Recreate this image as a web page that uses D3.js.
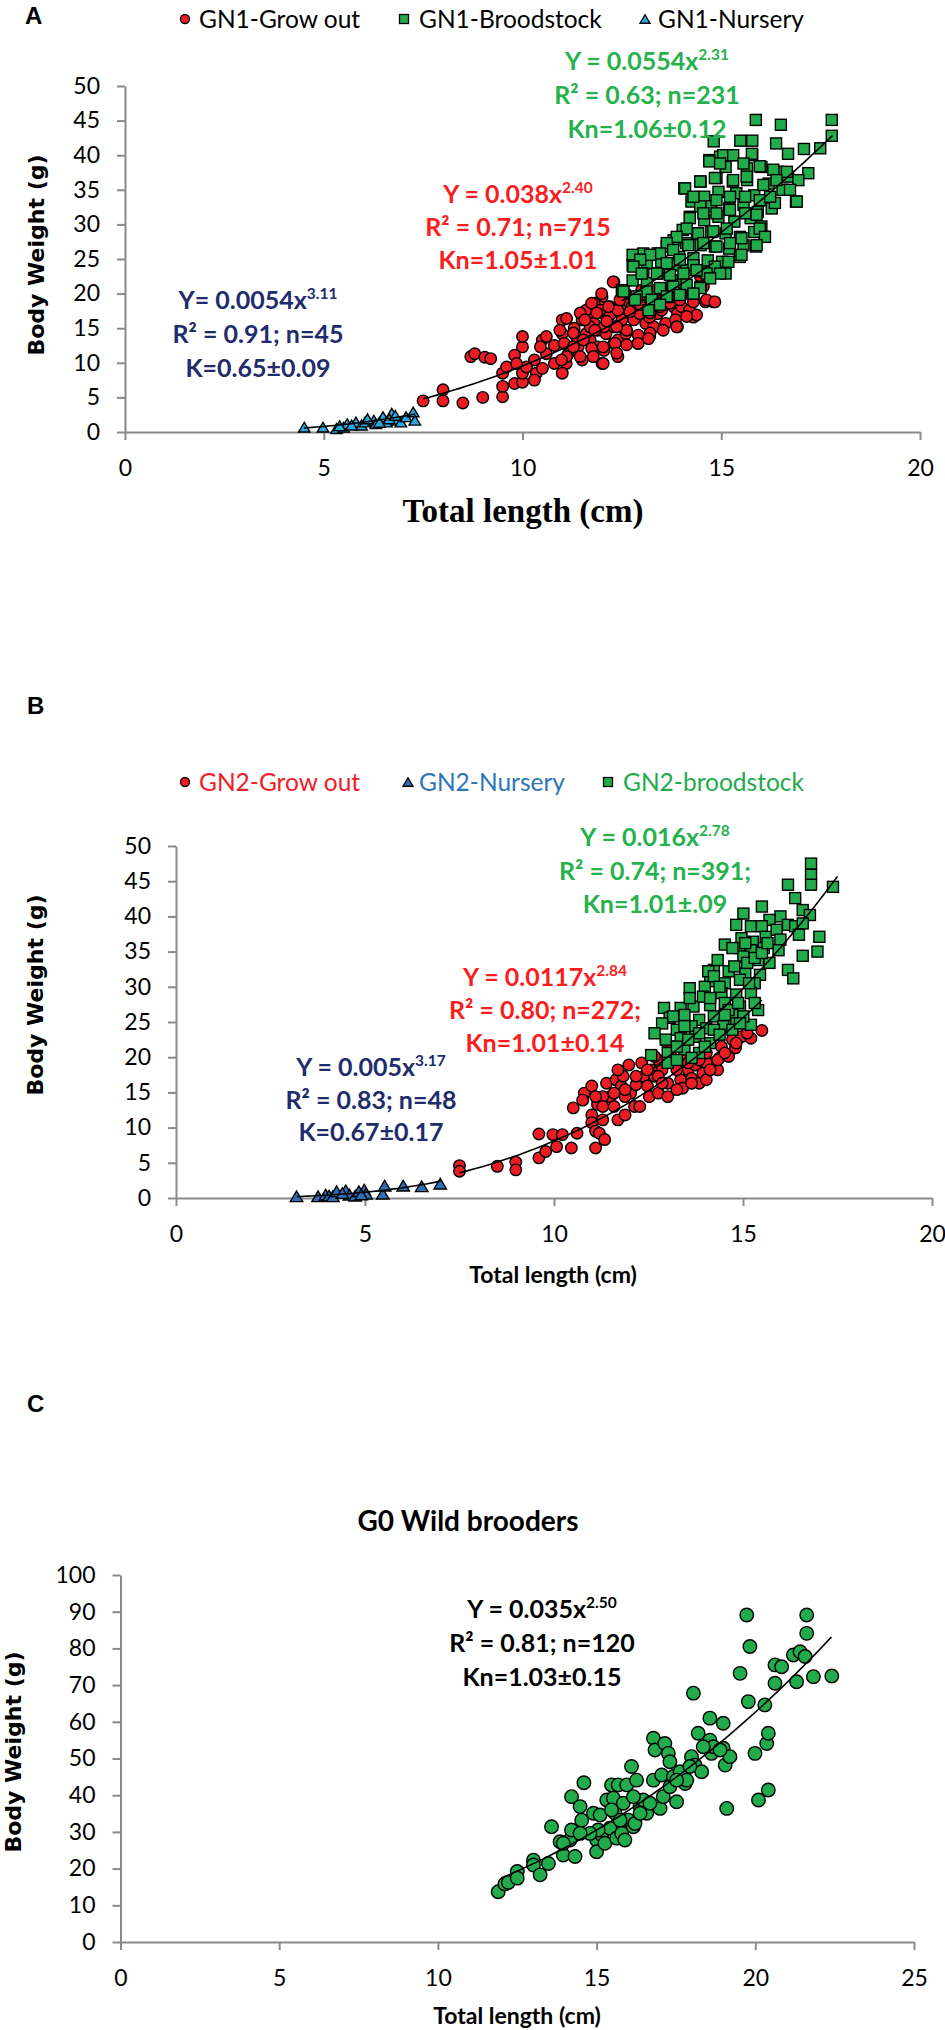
<!DOCTYPE html>
<html>
<head>
<meta charset="utf-8">
<script src="https://cdn.jsdelivr.net/npm/d3@7"></script>
<style>
  body { margin: 0; background: #fff; }
  svg { display: block; }
</style>
</head>
<body>
<script>
// values: [total length (cm), body weight (g)]

// panel A
let gn1GrowOut = [
  [7.5,4.5],[8.0,6.1],[8.0,4.5],[8.5,4.2],[9.0,5.0],[9.5,5.1],[9.5,6.6],[8.7,10.9],[8.8,11.3],[9.05,10.8],
  [9.2,10.6],[9.5,8.5],[9.8,7.0],[10.0,7.2],[10.0,8.5],[9.8,11.1],[10.0,12.3],[10.0,13.8],[10.3,10.4],[10.35,8.5],
  [10.5,9.2],[10.5,13.3],[10.6,11.3],[10.8,12.5],[11.0,14.2],[11.0,16.2],[11.1,9.9],[11.25,12.3],[11.3,15.0],[11.5,16.2],
  [11.5,10.4],[11.7,13.3],[11.9,12.3],[12.0,9.9],[12.0,19.5],[11.8,17.1],[11.9,14.7],[12.05,17.1],[12.1,14.2],[12.3,21.7],
  [12.2,18.1],[12.3,15.2],[12.4,13.3],[12.4,10.9],[12.6,17.1],[12.6,14.2],[12.8,16.2],[12.9,12.8],[13.0,18.1],[13.1,15.7],
  [13.2,13.8],[13.3,15.2],[13.4,17.1],[13.5,17.6],[13.6,15.7],[13.8,18.1],[13.85,19.5],[13.9,17.1],[14.0,18.1],[13.9,15.2],
  [14.3,16.6],[14.6,18.8],[14.8,18.8],[14.6,22.2],[11.95,18.1],[11.6,17.6],[11.8,18.6],[12.5,19.0],[12.8,19.5],[13.0,20.5],
  [12.7,18.6],[11.35,13.8],[11.15,11.3],[10.45,12.3],[10.6,13.8],[10.8,9.9],[11.0,8.5],[10.3,7.5],[10.1,9.4],[9.6,9.4],
  [9.85,9.9],[11.05,12.8],[11.4,12.3],[12.05,11.8],[12.3,12.8],[11.6,14.2],[11.8,15.7],[12.05,15.2],[12.2,16.9],[12.5,16.2],
  [12.75,18.1],[12.95,17.1],[13.2,16.6],[13.5,19.0],[13.65,19.5],[14.2,17.6],[14.0,20.0],[13.85,16.2],[13.1,19.5],[13.3,20.5],
  [12.6,20.0],[11.95,17.6],[12.4,17.6],[11.7,15.2],
  [12.28,21.7],[11.99,20.0],[11.74,18.6],[11.45,17.2],[11.11,16.4],[10.94,14.7],[11.28,14.3],[11.57,16.2],[11.87,17.2],[12.16,18.1],
  [12.45,19.1],[12.7,17.4],[12.96,18.4],[13.21,17.2],[13.46,18.1],[13.71,18.6],[13.96,19.1],[14.3,18.8],[14.63,19.1],[14.84,18.8],
  [14.38,16.9],[14.13,16.7],[13.88,15.2],[13.54,14.7],[13.21,14.3],[12.91,14.0],[12.62,14.7],[12.37,15.2],[12.12,16.0],[11.82,14.7],
  [11.53,13.3],[11.28,12.3],[11.11,10.9],[11.45,10.9],[11.74,12.1],[12.03,12.3],[12.33,12.8],[12.62,12.6],[12.91,12.8],[13.17,13.5],
  [12.03,9.9],[12.37,11.4],[11.78,10.9],[10.98,10.4],[14.47,22.5],[14.55,21.0],[14.17,20.3]
];
let gn1Broodstock = [
  [15.87,45.1],[16.5,44.4],[17.78,45.1],[17.78,42.8],[14.81,42.0],[15.48,42.1],[15.78,42.1],[16.38,41.7],[16.68,40.2],[17.08,40.9],
  [17.49,41.0],[17.19,37.4],[14.7,39.3],[14.97,39.8],[15.29,40.0],[15.78,40.0],[15.11,38.3],[15.65,38.1],[16.01,38.3],[16.41,37.6],
  [16.68,36.9],[14.07,35.2],[14.48,36.2],[14.88,36.7],[15.29,36.2],[15.65,36.4],[16.19,35.9],[16.54,35.0],[16.88,33.3],[16.14,33.5],
  [15.83,34.2],[15.38,34.5],[14.93,34.7],[14.57,34.0],[14.25,33.3],[14.75,32.6],[15.2,32.3],[15.56,32.8],[15.92,31.8],[16.27,32.3],
  [14.21,31.1],[14.57,30.6],[14.93,31.1],[15.33,30.4],[15.74,30.9],[16.01,29.7],[15.87,26.8],[16.09,28.2],[14.03,29.2],[14.39,28.7],
  [14.75,28.9],[15.11,28.7],[15.47,28.2],[15.83,28.9],[13.8,27.7],[14.12,27.3],[14.48,27.0],[14.84,26.8],[15.2,26.5],[15.56,27.0],
  [15.47,25.3],[15.11,22.9],[15.02,24.6],[14.66,24.8],[14.3,25.1],[13.94,25.3],[13.63,26.8],[13.4,25.8],[13.04,25.8],[12.77,25.6],
  [13.13,24.4],[13.49,24.6],[13.8,24.1],[14.12,23.4],[14.48,23.2],[14.84,23.9],[12.77,24.1],[13.04,22.9],[13.4,22.9],[13.76,21.9],
  [14.03,21.5],[14.48,21.0],[12.77,21.9],[13.13,21.5],[13.49,20.7],[12.5,20.5],[12.82,19.3],[13.22,19.5],[13.67,19.5],[13.98,20.0],
  [14.3,20.0],
  [15.05,40.0],[15.3,40.0],[15.77,40.2],[14.7,39.1],[14.97,38.8],[15.56,38.8],[15.97,38.4],[16.31,37.9],[16.65,37.6],[16.94,36.4],
  [14.09,35.2],[14.47,36.2],[14.84,36.7],[15.3,36.4],[15.64,36.9],[16.06,35.7],[16.39,36.4],[16.73,35.0],[16.9,33.3],[16.35,33.1],
  [15.97,33.5],[15.6,34.0],[15.22,34.0],[14.88,33.5],[14.47,32.6],[14.3,34.0],[14.21,30.9],[14.55,31.6],[14.88,31.6],[15.22,32.1],
  [15.6,31.6],[15.89,31.4],[16.23,34.0],[15.97,29.4],[16.1,28.2],[15.89,27.0],[15.51,28.0],[15.14,29.4],[14.8,29.0],[14.42,28.7],
  [14.13,29.4],[13.88,28.2],[13.63,27.3],[13.46,25.8],[13.79,26.3],[14.17,27.0],[14.55,27.3],[14.88,26.8],[15.22,27.3],[15.51,25.6],
  [15.18,24.6],[14.97,22.9],[14.63,22.9],[14.3,24.1],[13.96,24.9],[13.63,24.4],[13.21,25.6],[12.96,24.9],[12.79,23.9],[13.0,22.9],
  [13.38,22.9],[13.71,22.7],[14.05,22.9],[14.38,23.4],[14.72,22.2],[14.47,20.8],[14.13,21.3],[13.79,21.0],[13.46,20.8],[13.12,20.3],
  [12.87,19.6],[12.54,20.3],[12.83,19.1],[13.25,19.1],[13.63,19.6],[13.96,19.8],[14.3,20.0],[13.17,17.6],[13.46,18.4]
];
let gn1Nursery = [
  [4.51,0.7],[4.98,0.7],[5.32,0.5],[5.5,0.7],[5.59,1.2],[5.81,1.45],[5.95,1.0],[6.04,1.45],[6.26,1.7],[6.31,1.2],
  [6.49,2.2],[6.58,1.45],[6.71,2.7],[6.85,1.7],[6.94,1.45],[7.07,2.2],[7.25,2.9],[7.29,1.7],[5.7,1.0],[6.1,1.9],
  [6.4,1.4],[5.4,0.9],[6.65,1.9],[6.8,2.4]
];

// panel B
let gn2GrowOut = [
  [7.5,4.6],[7.5,3.8],[8.5,4.5],[8.99,5.1],[8.99,4.0],[9.6,9.1],[9.6,5.7],[9.78,6.6],[9.97,9.0],[10.07,7.3],
  [10.22,9.0],[10.46,7.1],[10.61,9.2],[10.51,12.8],[10.8,14.9],[10.76,13.9],[11.0,11.8],[11.0,10.7],[11.1,9.5],[11.2,9.2],
  [11.34,8.3],[11.15,13.3],[11.39,16.3],[11.49,14.4],[11.64,16.8],[11.69,11.1],[11.59,13.0],[11.78,15.9],[11.88,11.8],[11.98,18.9],
  [12.03,14.9],[12.13,13.0],[12.17,16.1],[12.27,13.0],[12.37,17.3],[12.47,15.9],[12.52,14.4],[12.57,18.2],[12.66,17.3],[12.76,14.9],
  [12.86,18.2],[13.01,16.3],[13.01,14.4],[12.96,22.2],[13.1,20.1],[13.25,19.2],[13.35,16.8],[13.4,15.6],[13.55,18.2],[13.64,17.0],
  [13.74,18.9],[13.84,16.3],[13.94,17.7],[14.03,16.8],[14.18,19.2],[14.33,18.2],[14.38,19.9],[14.43,21.5],[14.72,22.5],[14.8,21.3],
  [14.96,22.9],[15.21,22.7],[15.5,23.8],[14.62,20.1],[13.45,19.6],[12.76,19.6],[12.32,19.2],[11.83,17.3],[11.29,14.4],[11.0,15.9],
  [11.69,18.2],[12.66,20.1],[13.15,21.5],[14.03,19.2],[13.25,15.4],[11.1,7.1],[11.29,11.1],[11.88,14.4],
  [13.25,18.2],[13.55,19.2],[13.84,19.6],[14.13,18.2],[14.33,19.6],[14.52,20.6],[12.76,17.3],[12.47,18.2],[12.17,17.3],[11.88,15.4],
  [11.59,14.9],[11.29,13.0],[11.1,14.4],[12.86,16.3],[13.64,16.3],[14.03,20.6],[14.82,22.0],[15.11,23.4]
];
let gn2Nursery = [
  [3.19,0.24],[3.76,0.24],[3.96,0.48],[4.05,0.33],[4.15,0.24],[4.25,0.95],[4.49,1.09],[4.59,0.48],[4.74,0.33],[4.84,0.95],
  [4.98,1.19],[5.03,0.62],[5.47,0.62],[5.52,1.75],[6.01,1.75],[6.5,1.66],[6.99,2.04],[4.4,0.7],[4.9,0.5]
];
let gn2Broodstock = [
  [16.8,47.5],[16.8,45.9],[16.8,44.5],[17.38,44.2],[16.19,44.5],[16.38,42.6],[15.5,41.4],[15.01,40.4],[16.58,40.9],[16.77,40.2],
  [15.99,40.0],[15.7,39.5],[14.82,38.8],[15.21,38.6],[15.5,38.6],[16.19,38.8],[16.38,38.6],[16.58,39.0],[15.89,38.1],[17.02,37.1],
  [16.97,35.0],[16.58,34.4],[16.48,37.4],[14.96,36.9],[15.26,36.4],[15.6,37.1],[15.99,36.7],[14.52,36.0],[14.92,35.5],[15.21,35.2],
  [15.55,35.5],[15.94,35.2],[16.19,32.4],[16.33,31.2],[15.7,33.4],[15.4,33.8],[15.01,34.3],[14.23,32.4],[14.62,32.2],[15.06,31.9],
  [15.45,31.7],[14.13,30.8],[14.52,30.5],[14.92,31.0],[15.31,30.5],[13.59,29.8],[13.99,30.0],[14.43,29.1],[14.82,28.9],[15.21,29.1],
  [12.91,27.0],[13.35,27.0],[13.69,27.2],[14.13,27.4],[14.52,27.7],[14.92,27.2],[15.4,26.7],[13.06,25.6],[13.45,26.0],[13.84,25.3],
  [14.23,25.8],[14.72,26.0],[13.25,23.9],[13.64,24.4],[14.03,24.1],[14.48,24.4],[14.82,24.8],[15.21,24.6],[12.96,22.5],[13.35,22.7],
  [13.74,22.9],[14.13,22.0],[12.57,20.3],[13.01,20.6],[13.45,21.1],[13.84,20.6],[13.01,19.2],[13.25,19.6],[13.64,19.9],
  [14.08,32.2],[14.23,31.5],[14.38,30.0],[14.77,32.9],[15.11,33.4],[15.31,34.1],[15.5,34.8],[15.65,36.2],[14.72,35.5],[15.06,36.2],
  [14.33,33.8],[13.94,28.6],[13.59,28.4],[14.13,28.4],[14.62,26.7],[15.01,25.8],[15.31,27.7],[15.16,30.5],[14.87,27.7],[14.52,26.0],
  [14.23,23.9],[13.84,23.4],[13.45,24.4],[13.15,25.8],[12.86,24.8],[12.66,23.4],[13.25,21.5],[13.55,22.5],[13.99,21.5],[14.38,23.2],
  [14.72,23.9],[14.92,24.8]
];

// panel C
let g0Wild = [
  [11.9,13.7],[12.11,15.8],[12.22,16.2],[12.5,19.2],[12.5,17.4],[13.01,22.3],[13.01,21.0],[13.22,18.3],[13.48,21.4],[13.58,31.4],
  [13.85,27.3],[13.95,23.7],[14.16,27.8],[14.21,30.5],[14.21,39.6],[14.32,23.3],[14.48,36.9],[14.53,33.2],[14.6,43.4],[14.9,35.1],
  [15.0,27.8],[15.0,24.6],[15.11,34.6],[15.16,29.2],[15.26,26.9],[15.32,38.7],[15.42,31.0],[15.47,42.8],[15.53,39.2],[15.58,35.1],
  [15.63,28.3],[15.68,42.8],[15.79,29.6],[15.84,37.8],[15.95,42.8],[16.0,33.2],[16.1,47.8],[16.16,31.4],[16.21,32.3],[16.26,44.1],
  [16.37,36.9],[16.47,38.7],[16.58,35.1],[16.79,44.1],[16.79,55.5],[16.84,52.3],[17.0,36.4],[17.05,45.5],[17.1,39.6],[17.15,54.1],
  [17.26,51.4],[17.31,49.1],[17.31,42.3],[17.42,45.1],[17.52,38.2],[17.63,46.4],[17.79,43.2],[17.84,44.1],[17.99,50.5],[18.05,67.8],
  [18.1,48.2],[18.2,56.9],[18.31,46.4],[18.57,61.0],[18.57,55.0],[18.62,51.4],[18.68,53.2],[18.99,59.6],[18.99,52.8],[19.05,48.2],
  [19.1,36.4],[19.2,50.5],[19.52,73.2],[19.73,89.1],[19.78,65.5],[19.83,80.5],[19.99,51.4],[20.1,38.7],[20.3,64.6],[20.36,54.1],
  [20.41,56.9],[20.41,41.4],[20.62,75.5],[20.62,70.5],[20.83,75.0],[21.2,78.2],[21.3,70.9],[21.41,79.1],[21.57,77.8],[21.62,89.1],
  [21.62,84.1],[21.83,72.3],[22.41,72.5],[15.05,30.5],[14.79,29.6],[15.74,33.2],[15.89,27.8],[14.48,29.6],[16.37,35.1],[16.68,37.8],
  [17.52,44.1],[17.94,47.8],[18.36,53.2],[18.89,52.3],[15.47,36.0],[16.16,39.6],[13.95,26.9]
];

// power-curve trendlines as printed on the chart: [a, b, from, to]
let fitsA = [[0.0054, 3.11, 4.5, 7.3], [0.038, 2.40, 7.5, 14.8], [0.0554, 2.31, 12.5, 17.8]];
let fitsB = [[0.005, 3.17, 3.2, 7.0], [0.0117, 2.84, 7.5, 15.5], [0.016, 2.78, 12.6, 17.5]];
let fitsC = [[0.035, 2.50, 12.0, 22.4]];

let xTicksAB = [0, 5, 10, 15, 20];
let yTicksAB = [0, 5, 10, 15, 20, 25, 30, 35, 40, 45, 50];
let xTicksC = [0, 5, 10, 15, 20, 25];
let yTicksC = [0, 10, 20, 30, 40, 50, 60, 70, 80, 90, 100];

let legendA = ["GN1-Grow out", "GN1-Broodstock", "GN1-Nursery"];
let legendB = ["GN2-Grow out", "GN2-Nursery", "GN2-broodstock"];

let eqA = [
  [["Y = 0.0554x", "2.31"], ["R² = 0.63; n=231"], ["Kn=1.06±0.12"]],
  [["Y = 0.038x", "2.40"], ["R² = 0.71; n=715"], ["Kn=1.05±1.01"]],
  [["Y= 0.0054x", "3.11"], ["R² = 0.91; n=45"], ["K=0.65±0.09"]]
];
let eqB = [
  [["Y = 0.016x", "2.78"], ["R² = 0.74; n=391;"], ["Kn=1.01±.09"]],
  [["Y = 0.0117x", "2.84"], ["R² = 0.80; n=272;"], ["Kn=1.01±0.14"]],
  [["Y = 0.005x", "3.17"], ["R² = 0.83; n=48"], ["K=0.67±0.17"]]
];
let eqC = [
  [["Y = 0.035x", "2.50"], ["R² = 0.81; n=120"], ["Kn=1.03±0.15"]]
];

const RED = "#ec1c24", GREEN = "#22ab4a", LBLUE = "#2aa9e0", BLUE = "#2e6fb5", NAVY = "#202c6b";
const GRAY = "#8a8a8a";

let svg = d3.select("body").append("svg")
  .attr("width", 945).attr("height", 2030)
  .style("font-family", "Lato, sans-serif");

function marker(g, shape, fill, size) {
  if (shape === "circle") {
    return g.append("circle").attr("r", size / 2).attr("fill", fill);
  } else if (shape === "square") {
    return g.append("rect").attr("x", -size / 2).attr("y", -size / 2)
      .attr("width", size).attr("height", size).attr("fill", fill);
  } else {
    let h = size * 0.85;
    return g.append("path").attr("d", `M0,${-h / 2}L${size / 2},${h / 2}L${-size / 2},${h / 2}Z`).attr("fill", fill);
  }
}

function drawPanel(p) {
  let g = svg.append("g");
  let x = d3.scaleLinear().domain(p.xDomain).range(p.xRange);
  let y = d3.scaleLinear().domain(p.yDomain).range(p.yRange);

  // axes
  let xa = g.append("g").attr("transform", `translate(0,${y(0)})`)
    .call(d3.axisBottom(x).tickValues(p.xTicks).tickSize(8).tickSizeOuter(0).tickPadding(20));
  let ya = g.append("g").attr("transform", `translate(${x(0)},0)`)
    .call(d3.axisLeft(y).tickValues(p.yTicks).tickSize(8).tickSizeOuter(0).tickPadding(17));
  [xa, ya].forEach(a => {
    a.select(".domain").attr("stroke", GRAY).attr("stroke-width", 2);
    a.selectAll(".tick line").attr("stroke", GRAY).attr("stroke-width", 2);
    a.selectAll(".tick text").attr("font-family", "Lato, sans-serif").attr("font-size", 23).attr("fill", "#000");
  });

  // series
  p.series.forEach(s => {
    g.append("g").selectAll("g").data(s.data).join("g")
      .attr("transform", d => `translate(${x(d[0])},${y(d[1])})`)
      .each(function () {
        marker(d3.select(this), s.shape, s.fill, s.size)
          .attr("stroke", "#000").attr("stroke-width", 1.4);
      });
  });

  // trendlines
  let line = d3.line().x(d => x(d[0])).y(d => y(d[1])).curve(d3.curveBasis);
  p.fits.forEach(f => {
    let pts = d3.range(f[2], f[3] + 1e-9, (f[3] - f[2]) / 40).map(v => [v, f[0] * Math.pow(v, f[1])]);
    g.append("path").attr("d", line(pts)).attr("fill", "none").attr("stroke", "#000").attr("stroke-width", 1.6);
  });

  // equations
  p.eqs.forEach((eq, i) => {
    let pos = p.eqPos[i];
    eq.forEach((ln, j) => {
      let t = g.append("text").attr("x", pos.cx).attr("y", pos.y0 + j * pos.dy)
        .attr("text-anchor", "middle").attr("font-weight", 700).attr("font-size", 25)
        .attr("fill", pos.color);
      t.append("tspan").text(ln[0]);
      if (ln[1]) t.append("tspan").attr("dy", -10).attr("font-size", 15.5).text(ln[1]);
    });
  });

  // axis titles
  g.append("text")
    .attr("transform", `translate(${p.yTitle[0]},${p.yTitle[1]}) rotate(-90)`)
    .attr("text-anchor", "middle").attr("dy", "0.35em")
    .attr("font-family", "DejaVu Sans, Verdana, sans-serif").attr("font-weight", 700).attr("font-size", 22)
    .text("Body Weight (g)");
  g.append("text").attr("x", p.xTitle[0]).attr("y", p.xTitle[1]).attr("text-anchor", "middle")
    .attr("font-family", p.xTitleFont).attr("font-weight", 700).attr("font-size", p.xTitleSize)
    .text("Total length (cm)");

  // panel letter
  g.append("text").attr("x", p.letter[1]).attr("y", p.letter[2])
    .attr("font-family", "Liberation Sans, Arial, sans-serif").attr("font-weight", 700).attr("font-size", 24)
    .text(p.letter[0]);

  // legend
  if (p.legend) {
    p.legend.forEach(it => {
      let lg = g.append("g").attr("transform", `translate(${it.mx},${p.legendY})`);
      marker(lg, p.series[it.s].shape, p.series[it.s].fill, it.ms).attr("stroke", "#000").attr("stroke-width", 1.3);
      g.append("text").attr("x", it.tx).attr("y", p.legendY + 9).attr("font-size", 24.5)
        .attr("fill", it.color).text(it.label);
    });
  }
  if (p.title) {
    g.append("text").attr("x", p.title[1]).attr("y", p.title[2]).attr("text-anchor", "middle")
      .attr("font-weight", 700).attr("font-size", 28).text(p.title[0]);
  }
}

drawPanel({
  xDomain: [0, 20], xRange: [125, 920], yDomain: [0, 50], yRange: [432, 86],
  xTicks: xTicksAB, yTicks: yTicksAB,
  series: [
    { data: gn1GrowOut, shape: "circle", fill: RED, size: 11.5 },
    { data: gn1Broodstock, shape: "square", fill: GREEN, size: 11 },
    { data: gn1Nursery, shape: "triangle", fill: LBLUE, size: 11.5 }
  ],
  fits: fitsA,
  eqs: eqA,
  eqPos: [
    { cx: 647, y0: 70, dy: 34, color: "#25b24c" },
    { cx: 518, y0: 203, dy: 33, color: "#fb1d1d" },
    { cx: 258, y0: 309, dy: 34, color: NAVY }
  ],
  yTitle: [36, 255], xTitle: [523, 522], xTitleFont: "Liberation Serif, Times New Roman, serif", xTitleSize: 33,
  letter: ["A", 25, 24],
  legendY: 19,
  legend: [
    { s: 0, mx: 185, tx: 199, ms: 9, label: legendA[0], color: "#000" },
    { s: 1, mx: 404, tx: 419, ms: 9, label: legendA[1], color: "#000" },
    { s: 2, mx: 645, tx: 658, ms: 10, label: legendA[2], color: "#000" }
  ]
});

drawPanel({
  xDomain: [0, 20], xRange: [176, 932], yDomain: [0, 50], yRange: [1198, 846],
  xTicks: xTicksAB, yTicks: yTicksAB,
  series: [
    { data: gn2GrowOut, shape: "circle", fill: RED, size: 11.5 },
    { data: gn2Nursery, shape: "triangle", fill: BLUE, size: 12.5 },
    { data: gn2Broodstock, shape: "square", fill: GREEN, size: 11 }
  ],
  fits: fitsB,
  eqs: eqB,
  eqPos: [
    { cx: 655, y0: 846, dy: 33.5, color: "#25b24c" },
    { cx: 545, y0: 986, dy: 33, color: "#fb1d1d" },
    { cx: 371, y0: 1076, dy: 32.5, color: NAVY }
  ],
  yTitle: [35, 995], xTitle: [553, 1283], xTitleFont: "Lato, sans-serif", xTitleSize: 23,
  letter: ["B", 27, 714],
  legendY: 782,
  legend: [
    { s: 0, mx: 185, tx: 199, ms: 9, label: legendB[0], color: "#f0202a" },
    { s: 1, mx: 408, tx: 419, ms: 10, label: legendB[1], color: "#2e75b6" },
    { s: 2, mx: 608, tx: 623, ms: 9, label: legendB[2], color: "#22ab4a" }
  ]
});

drawPanel({
  xDomain: [0, 25], xRange: [120.5, 914], yDomain: [0, 100], yRange: [1942, 1575],
  xTicks: xTicksC, yTicks: yTicksC,
  series: [
    { data: g0Wild, shape: "circle", fill: GREEN, size: 13.5 }
  ],
  fits: fitsC,
  eqs: eqC,
  eqPos: [
    { cx: 542, y0: 1618, dy: 34, color: "#000" }
  ],
  yTitle: [13, 1752], xTitle: [517, 2024], xTitleFont: "Lato, sans-serif", xTitleSize: 23,
  letter: ["C", 27, 1412],
  title: ["G0 Wild brooders", 468, 1531]
});
</script>
</body>
</html>
